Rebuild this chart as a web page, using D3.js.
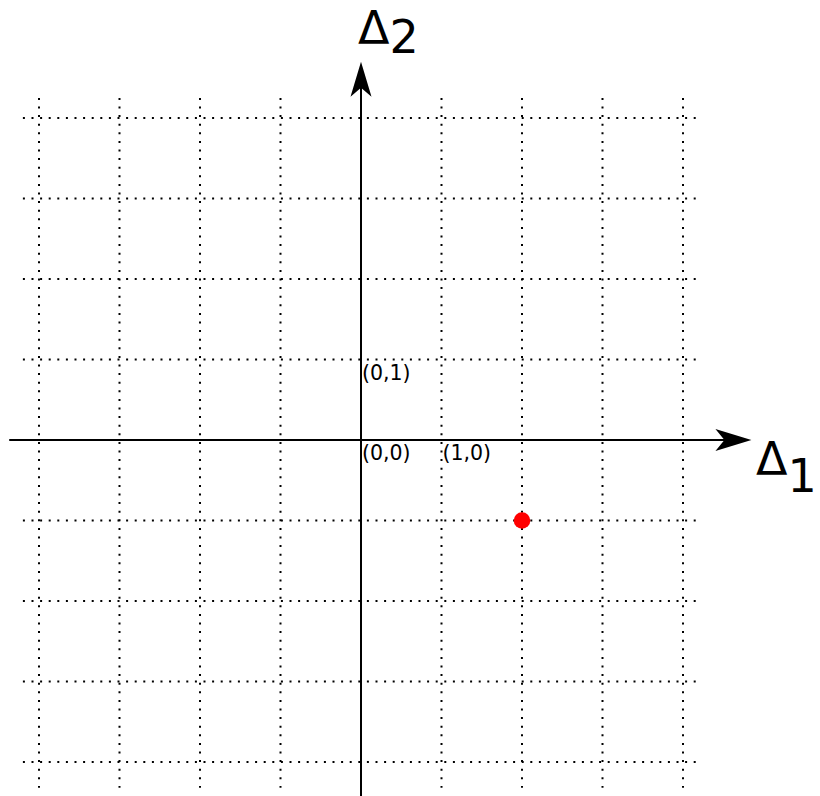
<!DOCTYPE html>
<html>
<head>
<meta charset="utf-8">
<script src="https://cdn.jsdelivr.net/npm/d3@7"></script>
<style>
  html, body { margin: 0; padding: 0; background: #fff; }
  svg { display: block; }
</style>
</head>
<body>
<div id="chart"></div>
<script>
// ---- data ----
const gridX = [-4, -3, -2, -1, 1, 2, 3, 4];
const gridY = [-4, -3, -2, -1, 1, 2, 3, 4];
const pointLabels = [
  { text: "(0,1)", x: 0, y: 1 },
  { text: "(0,0)", x: 0, y: 0 },
  { text: "(1,0)", x: 1, y: 0 }
];
const points = [{ x: 2, y: -1 }];
const axisLabels = [
  { main: "Δ", sub: "1", axis: "x" },
  { main: "Δ", sub: "2", axis: "y" }
];

// ---- layout ----
const W = 820, H = 796;
const svg = d3.select("#chart").append("svg").attr("width", W).attr("height", H);
const x = d3.scaleLinear().domain([-4, 4]).range([39, 683]);
const y = d3.scaleLinear().domain([-4, 4]).range([762, 118]);

// grid
const g = svg.append("g")
  .attr("stroke", "#000").attr("stroke-width", 2)
  .attr("stroke-dasharray", "2,6.6").attr("fill", "none");
g.selectAll("line.h").data(gridY).join("line")
  .attr("class", "h")
  .attr("x1", x(-4.2)).attr("x2", x(4.22))
  .attr("y1", d => y(d)).attr("y2", d => y(d));
g.selectAll("line.v").data(gridX).join("line")
  .attr("class", "v")
  .attr("y1", y(4.25)).attr("y2", y(-4.32))
  .attr("x1", d => x(d)).attr("x2", d => x(d));

// axes
const x0 = x(0), y0 = y(0);
const xEnd = x(4.85), yEnd = y(4.7);
svg.append("line").attr("x1", x(-4.37)).attr("x2", xEnd - 10)
  .attr("y1", y0).attr("y2", y0).attr("stroke", "#000").attr("stroke-width", 2);
svg.append("line").attr("x1", x0).attr("x2", x0)
  .attr("y1", H).attr("y2", yEnd + 10).attr("stroke", "#000").attr("stroke-width", 2);

// arrowheads
svg.append("path")
  .attr("d", `M${xEnd},${y0} L${xEnd - 36},${y0 - 11} L${xEnd - 27},${y0} L${xEnd - 36},${y0 + 11} Z`)
  .attr("fill", "#000");
svg.append("path")
  .attr("d", `M${x0},${yEnd} L${x0 - 10.5},${yEnd + 35} L${x0},${yEnd + 26} L${x0 + 10.5},${yEnd + 35} Z`)
  .attr("fill", "#000");

// small labels
svg.selectAll("text.pl").data(pointLabels).join("text")
  .attr("class", "pl")
  .attr("x", d => x(d.x) + 1)
  .attr("y", d => y(d.y) + 20)
  .attr("font-family", "DejaVu Sans")
  .attr("font-size", 20.5)
  .text(d => d.text);

// red point
svg.selectAll("circle").data(points).join("circle")
  .attr("cx", d => x(d.x)).attr("cy", d => y(d.y)).attr("r", 8.3)
  .attr("fill", "#ff0000");

// axis labels
const lbl = svg.selectAll("text.al").data(axisLabels).join("text")
  .attr("class", "al")
  .attr("font-family", "DejaVu Sans")
  .attr("font-size", 46)
  .attr("x", d => d.axis === "x" ? 756 : 358)
  .attr("y", d => d.axis === "x" ? 475 : 44);
lbl.append("tspan").text(d => d.main);
lbl.append("tspan").attr("dy", d => d.axis === "x" ? 17 : 9).text(d => d.sub);
</script>
</body>
</html>
